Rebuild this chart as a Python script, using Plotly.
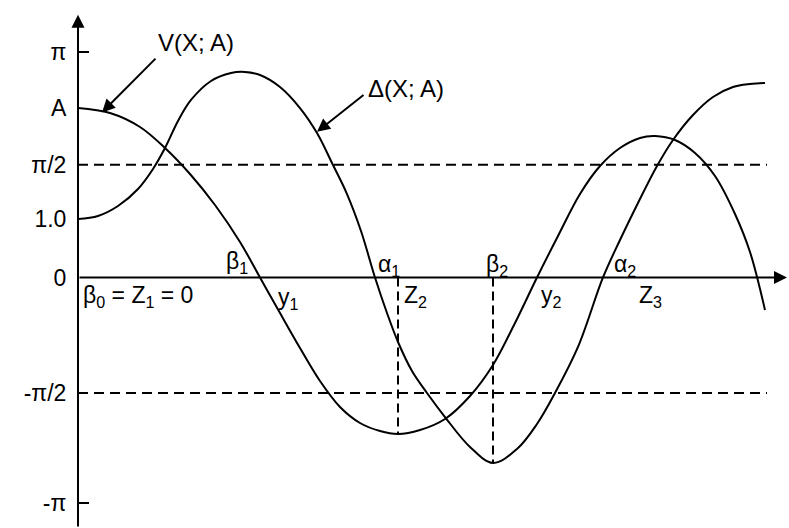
import math
import plotly.graph_objects as go

# ---- data (x: arbitrary units from the vertical axis, y: radians) ----
v_x = [0.00, 0.32, 0.62, 0.87, 1.12, 1.37, 1.62, 1.82, 2.02, 2.22, 2.42, 2.62, 2.82, 3.02,
       3.20, 3.42, 3.67, 3.92, 4.15, 4.37, 4.59, 4.80, 5.02, 5.22, 5.42, 5.62, 5.77, 5.97,
       6.17, 6.37, 6.57, 6.72, 6.87]
v_y = [2.361, 2.292, 2.097, 1.804, 1.442, 1.010, 0.495, 0.000, -0.495, -0.982, -1.442, -1.804,
       -2.027, -2.139, -2.180, -2.125, -1.971, -1.651, -1.219, -0.634, 0.000, 0.578, 1.163,
       1.553, 1.804, 1.944, 1.971, 1.916, 1.735, 1.414, 0.885, 0.355, -0.453]

d_x = [0.00, 0.20, 0.40, 0.60, 0.75, 0.87, 1.00, 1.13, 1.33, 1.53, 1.67, 1.82, 2.02, 2.22,
       2.39, 2.55, 2.69, 2.83, 2.97, 3.09, 3.20, 3.34, 3.49, 3.67, 3.92, 4.15,
       4.39, 4.59, 4.77, 5.00, 5.25, 5.42, 5.60, 5.79, 5.95, 6.15, 6.35, 6.55, 6.72, 6.87]
d_y = [0.815, 0.857, 0.996, 1.233, 1.512, 1.804, 2.180, 2.473, 2.738, 2.849, 2.863, 2.821,
       2.654, 2.361, 2.013, 1.567, 1.163, 0.648, 0.000, -0.495, -0.899, -1.303, -1.609, -1.944,
       -2.361, -2.584, -2.389, -2.041, -1.609, -0.968, 0.000, 0.522, 1.038,
       1.553, 1.916, 2.264, 2.515, 2.654, 2.696, 2.710]

tick_vals = [math.pi, 2.36, math.pi / 2, 0.815, 0.0, -1.61, -math.pi]
tick_text = ["π", "A", "π/2", "1.0", "0", "-π/2", "-π"]

level_vals = [math.pi / 2, -1.61]          # dashed horizontal reference levels
level_end = 6.89

drop_x = [3.20, 4.15]                      # Z2, beta2 dashed verticals
drop_y = [-2.18, -2.584]

point_labels = ["β<sub>0</sub> = Z<sub>1</sub> = 0", "β<sub>1</sub>", "y<sub>1</sub>",
                "α<sub>1</sub>", "Z<sub>2</sub>", "β<sub>2</sub>", "y<sub>2</sub>",
                "α<sub>2</sub>", "Z<sub>3</sub>"]
label_x = [0.03, 1.46, 1.98, 2.98, 3.24, 4.06, 4.61, 5.34, 5.59]
label_y = [-0.27, 0.21, -0.29, 0.17, -0.27, 0.17, -0.27, 0.17, -0.27]

curve_names = ["V(X; A)", "Δ(X; A)"]
name_pos = [(0.78, 3.27), (2.88, 2.63)]
name_arrow_tail = [(0.79, 3.07), (2.87, 2.56)]
name_arrow_head = [(0.24, 2.30), (2.39, 2.03)]

FONT = "Liberation Sans"
fig = go.Figure()

for xs, ys in [(v_x, v_y), (d_x, d_y)]:
    fig.add_trace(go.Scatter(x=xs, y=ys, mode="lines", hoverinfo="skip",
                             line=dict(color="black", width=2, shape="spline", smoothing=1.0)))

for lv in level_vals:
    fig.add_trace(go.Scatter(x=[0, level_end], y=[lv, lv], mode="lines", hoverinfo="skip",
                             line=dict(color="black", width=2, dash="10px,6px")))

for xv, yv in zip(drop_x, drop_y):
    fig.add_trace(go.Scatter(x=[xv, xv], y=[0, yv], mode="lines", hoverinfo="skip",
                             line=dict(color="black", width=2, dash="9px,5px")))

shapes = []
for tv in [math.pi, -math.pi]:
    shapes.append(dict(type="line", xref="x", yref="y", x0=0, x1=0.11, y0=tv, y1=tv,
                       line=dict(color="black", width=2)))

annotations = []
# axes with arrow heads
annotations.append(dict(x=0, y=3.66, ax=0, ay=-3.49, xref="x", yref="y", axref="x", ayref="y",
                        text="", showarrow=True, arrowhead=2, arrowsize=1.3, arrowwidth=2,
                        arrowcolor="black"))
annotations.append(dict(x=7.09, y=0, ax=0, ay=0, xref="x", yref="y", axref="x", ayref="y",
                        text="", showarrow=True, arrowhead=2, arrowsize=1.3, arrowwidth=2,
                        arrowcolor="black"))
# curve name pointers
for (tx, ty), (hx, hy) in zip(name_arrow_tail, name_arrow_head):
    annotations.append(dict(x=hx, y=hy, ax=tx, ay=ty, xref="x", yref="y", axref="x", ayref="y",
                            text="", showarrow=True, arrowhead=2, arrowsize=1.3, arrowwidth=2,
                            arrowcolor="black"))
for name, (nx, ny) in zip(curve_names, name_pos):
    annotations.append(dict(x=nx, y=ny, xref="x", yref="y", text=name, showarrow=False,
                            xanchor="left", yanchor="middle",
                            font=dict(family=FONT, size=24, color="black")))
for t, lx, ly in zip(point_labels, label_x, label_y):
    annotations.append(dict(x=lx, y=ly, xref="x", yref="y", text=t, showarrow=False,
                            xanchor="left", yanchor="middle",
                            font=dict(family=FONT, size=23, color="black")))

fig.update_layout(
    width=789, height=528,
    margin=dict(l=78, r=0, t=0, b=0, pad=0),
    paper_bgcolor="white", plot_bgcolor="white",
    showlegend=False, hovermode=False,
    shapes=shapes, annotations=annotations,
    xaxis=dict(range=[0, 7.11], showgrid=False, zeroline=False, showticklabels=False,
               showline=False, ticks="", automargin=False, fixedrange=True),
    yaxis=dict(range=[-3.49, 3.866], showgrid=False, zeroline=False, showline=False,
               tickvals=tick_vals, ticktext=tick_text, ticks="outside", ticklen=6,
               tickcolor="rgba(0,0,0,0)", automargin=False, fixedrange=True,
               tickfont=dict(family=FONT, size=23, color="black")),
)

fig.write_html("out.html",
               config={"displayModeBar": False, "staticPlot": True},
               post_script="document.body.style.margin='0px';"
                           "document.body.style.overflow='hidden';")
